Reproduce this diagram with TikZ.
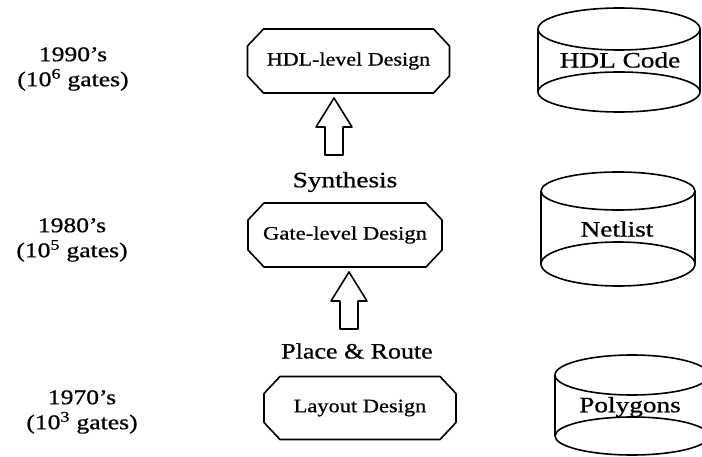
\documentclass[tikz,border=0pt]{standalone}
\usepackage{fontspec}
\setmainfont{Liberation Serif}[FakeBold=0.7]
\usepackage{graphicx}

% horizontally widened text
\newcommand{\widetext}[2][1.22]{\scalebox{#1}[1]{#2}}

% chamfered box drawn round a named node: node, half width, half height
\newcommand{\chamferbox}[3]{%
  \draw[outline]
    ([shift={(-#2+16,-#3)}]#1.center) -- ([shift={(#2-16,-#3)}]#1.center)
    -- ([shift={(#2,-#3+17)}]#1.center) -- ([shift={(#2,#3-17)}]#1.center)
    -- ([shift={(#2-16,#3)}]#1.center) -- ([shift={(-#2+16,#3)}]#1.center)
    -- ([shift={(-#2,#3-17)}]#1.center) -- ([shift={(-#2,-#3+17)}]#1.center)
    -- cycle;}

% hollow up arrow hanging from its tip coordinate
\newcommand{\uparrowblock}[1]{%
  \draw[outline]
    (#1) -- ([shift={(18,29)}]#1) -- ([shift={(9,29)}]#1)
    -- ([shift={(9,57)}]#1) -- ([shift={(-9,57)}]#1)
    -- ([shift={(-9,29)}]#1) -- ([shift={(-18,29)}]#1) -- cycle;}

% storage drum: centre x, top y, bottom y, x radius, top y radius, bottom y radius
\newcommand{\drum}[6]{%
  \draw[outline] (#1,#2) ellipse [x radius=#4pt, y radius=#5pt];
  \draw[outline] (#1,#3) ellipse [x radius=#4pt, y radius=#6pt];
  \draw[outline] (#1-#4,#2) -- (#1-#4,#3);
  \draw[outline] (#1+#4,#2) -- (#1+#4,#3);}

\begin{document}
\begin{tikzpicture}[x=1pt,y=-1pt,
  outline/.style={line width=1.6pt, line join=round, draw=black},
  era/.style={align=center, inner sep=0pt, font=\fontsize{21}{25}\selectfont},
  stage/.style={inner sep=0pt, font=\fontsize{19}{22}\selectfont},
  tool/.style={inner sep=0pt, font=\fontsize{22}{24}\selectfont},
  store/.style={inner sep=0pt, font=\fontsize{22}{25}\selectfont}]
\useasboundingbox (0,0) rectangle (702,457);

% era labels
\node[era] (e90) at (73,69) {\widetext{1990’s}\\\widetext{(10\textsuperscript{6} gates)}};
\node[era] (e80) at (72,240) {\widetext{1980’s}\\\widetext{(10\textsuperscript{5} gates)}};
\node[era] (e70) at (82,412) {\widetext{1970’s}\\\widetext{(10\textsuperscript{3} gates)}};

% design levels
\node[stage] (hdl) at (348.5,61) {\widetext[1.16]{HDL-level Design}};
\node[stage] (gate) at (345,235) {\widetext[1.19]{Gate-level Design}};
\node[stage] (layout) at (360,408) {\widetext[1.18]{Layout Design}};
\chamferbox{hdl}{101}{32}
\chamferbox{gate}{97}{32}
\chamferbox{layout}{96}{31.5}

% transformations between levels
\coordinate (synthtip) at (334,98);
\coordinate (prtip) at (349,272);
\uparrowblock{synthtip}
\uparrowblock{prtip}
\node[tool] (synth) at (345,182) {\widetext[1.24]{Synthesis}};
\node[tool] (pr) at (357,351) {\widetext[1.18]{Place \& Route}};

% data representations
\drum{619}{29}{92}{81}{21}{20}
\drum{618}{191}{264}{77}{19}{22}
\drum{632}{375}{436}{77}{20}{19}
\node[store] (code) at (620,60) {\widetext[1.24]{HDL Code}};
\node[store] (net) at (617,229) {\widetext[1.24]{Netlist}};
\node[store] (poly) at (630,407) {\widetext[1.24]{Polygons}};
\end{tikzpicture}
\end{document}
